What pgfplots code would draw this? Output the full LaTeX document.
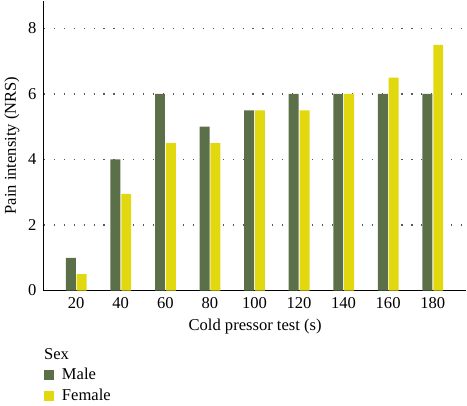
\documentclass[border=0pt]{standalone}
\usepackage{pgfplots}
\pgfplotsset{compat=1.18}
\usepackage{fontspec}
\setmainfont{Liberation Serif}
\definecolor{male}{HTML}{5B7049}
\definecolor{female}{HTML}{E2D810}
\begin{document}
\begin{tikzpicture}[x=1pt,y=1pt]
\begin{axis}[
  at={(0,0)}, anchor=south west,
  scale only axis,
  clip=false,
  width=319pt, height=219pt,
  xmin=5.5, xmax=195.1,
  ymin=0, ymax=8.85,
  axis x line=bottom, axis y line=left,
  axis line style={-, line width=0.8pt},
  xtick={20,40,...,180},
  ytick={0,2,4,6,8},
  major tick length=0pt,
  ymajorgrids,
  major grid style={gray!70!black, line width=0.9pt, dash pattern=on 0.9pt off 6.6pt},
  /pgf/number format/assume math mode=true,
  tick label style={font=\fontsize{12.5}{14}\selectfont},
  xticklabel style={yshift=-2pt},
  yticklabel style={xshift=-2pt},
  xlabel={Cold pressor test (s)},
  ylabel={Pain intensity (NRS)},
  label style={font=\fontsize{12.5}{14}\selectfont},
  xlabel style={yshift=-0.75pt},
  ylabel style={yshift=-0.25pt},
  ybar, bar width=7.5pt,
  legend style={draw=none, at={(0,-0.2585)}, anchor=north west, inner sep=0pt,
     font=\fontsize{12.5}{14}\selectfont, row sep=1.5pt, column sep=4pt, cells={anchor=west}},
  legend image code/.code={\fill[#1] (0pt,-3.75pt) rectangle (7.5pt,3.75pt);},
  legend cell align=left,
]
\addplot[fill=male, draw=none, bar shift=-4pt] coordinates {
(20,1) (40,4) (60,6) (80,5) (100,5.5) (120,6) (140,6) (160,6) (180,6)};
\addlegendentry{Male}
\addplot[fill=female, draw=none, bar shift=4.2pt] coordinates {
(20,0.5) (40,2.95) (60,4.5) (80,4.5) (100,5.5) (120,5.5) (140,6) (160,6.5) (180,7.5)};
\addlegendentry{Female}
\node[anchor=west, font=\fontsize{12.5}{14}\selectfont, inner sep=0pt] at (rel axis cs:0,-0.2195) {Sex};
\end{axis}
\path[use as bounding box] (-30.75pt,-81.75pt) rectangle (319.5pt,219pt);
\end{tikzpicture}
\end{document}
